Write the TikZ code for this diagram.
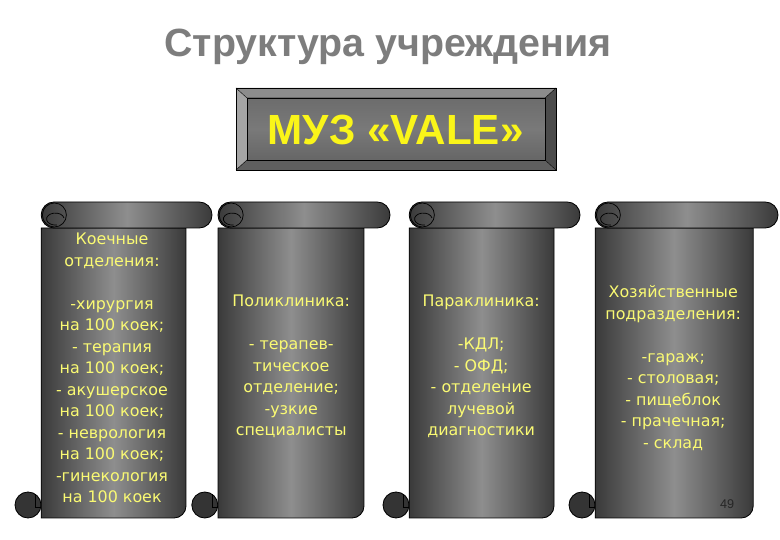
\documentclass[tikz,border=0pt]{standalone}
\usepackage{fontspec}
\setmainfont{DejaVu Sans}
\newfontfamily\headfont{Liberation Sans}
\usepackage{xcolor}
\usetikzlibrary{positioning,calc}

\definecolor{scrolldark}{RGB}{58,58,58}
\definecolor{scrolllight}{RGB}{142,142,142}
\definecolor{curldark}{RGB}{52,52,52}
\definecolor{scrolltext}{RGB}{250,250,115}
\definecolor{muzyellow}{RGB}{250,245,25}
\definecolor{titlegray}{RGB}{125,125,125}
\definecolor{bevtop}{RGB}{140,140,140}
\definecolor{bevleft}{RGB}{165,165,165}
\definecolor{bevright}{RGB}{75,75,75}
\definecolor{bevbottom}{RGB}{95,95,95}

\begin{document}
\begin{tikzpicture}[
    scroll/.style={draw=black, line width=0.6pt, left color=scrolldark, right color=scrolldark, middle color=scrolllight},
    curl/.style={draw=black, line width=0.6pt, fill=curldark},
    spiral/.style={draw=black, line width=0.5pt},
    stext/.style={font=\fontsize{11.3}{15.3}\selectfont, text=scrolltext, align=center},
    bevel/.style={draw=black, line width=0.5pt}
]
\useasboundingbox[fill=white] (0,0) rectangle (19.5,13.5);

% === Title ===
\node[anchor=base, font=\headfont\bfseries\fontsize{28}{31}\selectfont, text=titlegray] (title) at (9.7, 12.08) {Структура учреждения};

% === Bevelled box ===
\fill[bevtop] (5.9, 11.3) -- (13.9, 11.3) -- (13.625, 11.05) -- (6.175, 11.05) -- cycle;
\fill[bevleft] (5.9, 11.3) -- (6.175, 11.05) -- (6.175, 9.5) -- (5.9, 9.25) -- cycle;
\fill[bevright] (13.9, 11.3) -- (13.625, 11.05) -- (13.625, 9.5) -- (13.9, 9.25) -- cycle;
\fill[bevbottom] (5.9, 9.25) -- (6.175, 9.5) -- (13.625, 9.5) -- (13.9, 9.25) -- cycle;
\shade[bevel, top color=gray!85!black, bottom color=gray!80!black, middle color=gray!95!black] (6.175, 9.5) rectangle (13.625, 11.05);
\draw[bevel] (5.9, 9.25) rectangle (13.9, 11.3);
\draw[bevel, line width=0.3pt] (5.9, 11.3) -- (6.175, 11.05) (13.9, 11.3) -- (13.625, 11.05)
    (5.9, 9.25) -- (6.175, 9.5) (13.9, 9.25) -- (13.625, 9.5);
\node[anchor=base, font=\headfont\bfseries\fontsize{30}{34}\selectfont, text=muzyellow] (muz) at (9.89, 9.875) {МУЗ «VALE»};

% === Scroll 1 ===
\draw[curl] (0.70, 0.875) circle (0.325);
\draw[spiral] (0.89, 1.15) -- (0.89, 0.82) -- (1.03, 0.82);
\shade[scroll] (1.03, 7.8) -- (1.03, 0.55) -- (4.35, 0.55) arc[start angle=-90, end angle=0, radius=0.3] -- (4.65, 7.8) -- cycle;
\shade[scroll, rounded corners=0.32cm] (1.03, 7.8) rectangle (5.3, 8.45);
\draw[spiral] (1.36, 8.125) circle (0.3);
\draw[spiral] (1.6, 8.05) arc[start angle=10, end angle=280, x radius=0.22, y radius=0.15];

% === Scroll 2 ===
\draw[curl] (5.12, 0.875) circle (0.325);
\draw[spiral] (5.31, 1.15) -- (5.31, 0.82) -- (5.45, 0.82);
\shade[scroll] (5.45, 7.8) -- (5.45, 0.55) -- (8.8, 0.55) arc[start angle=-90, end angle=0, radius=0.3] -- (9.1, 7.8) -- cycle;
\shade[scroll, rounded corners=0.32cm] (5.45, 7.8) rectangle (9.75, 8.45);
\draw[spiral] (5.78, 8.125) circle (0.3);
\draw[spiral] (6.02, 8.05) arc[start angle=10, end angle=280, x radius=0.22, y radius=0.15];

% === Scroll 3 ===
\draw[curl] (9.9, 0.875) circle (0.325);
\draw[spiral] (10.09, 1.15) -- (10.09, 0.82) -- (10.23, 0.82);
\shade[scroll] (10.23, 7.8) -- (10.23, 0.55) -- (13.55, 0.55) arc[start angle=-90, end angle=0, radius=0.3] -- (13.85, 7.8) -- cycle;
\shade[scroll, rounded corners=0.32cm] (10.23, 7.8) rectangle (14.5, 8.45);
\draw[spiral] (10.56, 8.125) circle (0.3);
\draw[spiral] (10.8, 8.05) arc[start angle=10, end angle=280, x radius=0.22, y radius=0.15];

% === Scroll 4 ===
\draw[curl] (14.55, 0.875) circle (0.325);
\draw[spiral] (14.74, 1.15) -- (14.74, 0.82) -- (14.88, 0.82);
\shade[scroll] (14.88, 7.8) -- (14.88, 0.55) -- (18.53, 0.55) arc[start angle=-90, end angle=0, radius=0.3] -- (18.83, 7.8) -- cycle;
\shade[scroll, rounded corners=0.32cm] (14.88, 7.8) rectangle (19.45, 8.45);
\draw[spiral] (15.21, 8.125) circle (0.3);
\draw[spiral] (15.45, 8.05) arc[start angle=10, end angle=280, x radius=0.22, y radius=0.15];

% Scroll texts
\node[stext] (beds) at (2.8, 4.3) {Коечные\\отделения:\\[15.3pt]-хирургия\\на 100 коек;\\- терапия\\на 100 коек;\\- акушерское\\на 100 коек;\\- неврология\\на 100 коек;\\-гинекология\\на 100 коек};
\node[stext] (clinic) at (7.28, 4.34) {Поликлиника:\\[15.3pt]- терапев-\\тическое\\отделение;\\-узкие\\специалисты};
\node[stext] (para) at (12.03, 4.34) {Параклиника:\\[15.3pt]-КДЛ;\\- ОФД;\\- отделение\\лучевой\\диагностики};
\node[stext] (house) at (16.83, 4.3) {Хозяйственные\\подразделения:\\[15.3pt]-гараж;\\- столовая;\\- пищеблок\\- прачечная;\\- склад};

\node[font=\headfont\fontsize{9}{10}\selectfont, text=black!85] (page) at (18.18, 0.9) {49};
\end{tikzpicture}
\end{document}
